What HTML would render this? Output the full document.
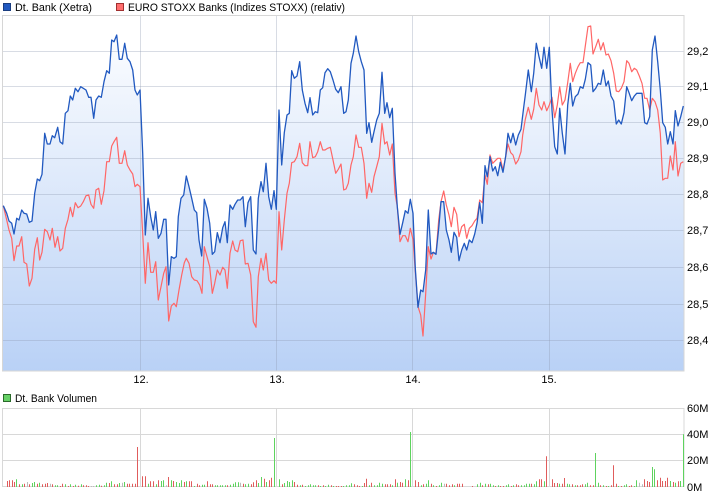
<!DOCTYPE html>
<html><head><meta charset="utf-8"><style>
html,body{margin:0;padding:0;background:#fff;}
svg{display:block;font-family:"Liberation Sans",Arial,sans-serif;}
</style></head><body>
<svg width="726" height="496" viewBox="0 0 726 496" xmlns="http://www.w3.org/2000/svg">
<defs>
<linearGradient id="g" x1="0" y1="15" x2="0" y2="371" gradientUnits="userSpaceOnUse">
<stop offset="0" stop-color="#ffffff"/>
<stop offset="1" stop-color="#b9d1f6"/>
</linearGradient>
</defs>
<rect width="726" height="496" fill="#fff"/>
<!-- legend -->
<rect x="3.5" y="3.5" width="7" height="7" fill="#2159c0" stroke="#1a3d80"/>
<text x="15" y="11" font-size="11" fill="#000" textLength="77" lengthAdjust="spacingAndGlyphs">Dt. Bank (Xetra)</text>
<rect x="116.5" y="3.5" width="7" height="7" fill="#ff6e6e" stroke="#a03030"/>
<text x="128" y="11" font-size="11" fill="#000" textLength="217" lengthAdjust="spacingAndGlyphs">EURO STOXX Banks (Indizes STOXX) (relativ)</text>

<!-- main plot fill -->
<polygon fill="url(#g)" points="3,371 3,205.7 3.3,205.7 6.7,213.3 9,221 11.7,223.3 14,234 16.7,218.3 19,220 21.7,210 24,213.3 26.7,214 29.3,222.3 32,221 34.7,193.3 37.3,179 39.7,180.7 42,174.3 44.7,133.3 47.3,144 50,144 52.3,135.7 54.7,137.7 57.7,127.3 60,141.7 62.7,144 65.3,113.3 68,110.7 70.3,96 72.7,100 75.3,88.3 78,91.7 80.7,86.7 83.3,88.3 86,90 88.7,97.3 91,97.3 93.7,118.3 96,100 98.7,96 101.3,97.3 104,81.7 106.7,70.7 109.3,73.3 111.7,40 114,41.7 116.7,35 119.3,59.3 122,59.3 124.7,43.3 127.3,58.3 130,61.7 132.7,70 135,90 137.3,95 140,90 142.7,153.3 145.3,235 148,198.3 150.7,216.7 153.3,230 155.7,211.7 158.3,238.3 161,233.3 163.7,219.3 166,219.3 168.7,285 171.3,256.7 174,258.3 176.3,256.7 178.3,216.7 181,198.3 183.7,195 186.3,176 189,186.7 191.7,198.3 194.3,210 196.7,212.7 199,240 201.7,256 204.3,199.3 207,208.3 209.7,223.3 212.3,254.3 214.7,251.7 217.3,232.7 220,242.7 222.7,227.7 225,221.7 227.3,242.7 230,205 232.7,209.3 235,204.3 237.7,200 240.3,200 243,196.7 245.3,226.7 248,202.7 250.7,196.7 253.3,250 256,254 258.3,198.3 261,181.7 263.3,191.7 266,163.3 268.7,196.7 271.3,209.3 274,190.7 276.3,209.3 279,110 281.7,165 284.3,132.7 287,115 289.3,113.3 291.7,70.7 294.3,78.3 297,76 299.7,61.7 302.3,90 305,103.3 307.7,112.7 310,97.7 312.7,115 315.3,111.7 317.7,112.7 320.3,90 322.7,87.7 325,72.7 327.7,68.7 330.3,71.7 333,80 335.7,89.3 338.3,92.7 341,86.7 343.7,113.3 346,111.7 348.3,100 351,63.3 353.3,53.3 356,36 358.7,51.7 361.3,61.7 364,70 366.7,133.3 369,122.7 371.7,142.3 374,131.7 376.7,120 379.3,113.3 382,72.3 384.7,113.3 387,102.7 389.7,117.7 392.3,108.3 395,173.3 397.3,206.7 400,234.3 402.7,222.7 405.3,210.7 408,213.3 410.3,199.3 413,213.3 415.3,268.3 418,307.3 420.7,290 423,291.7 425.7,270 428.3,210 431,254 433.3,252.3 436,254.3 438.7,228.3 441,201.7 443.7,201.7 446.3,230 449,240 451.3,252.3 454,232.3 456.7,237.3 459,260.7 461.7,250 464.3,243.3 466.7,250 469.3,240 472,242.7 474.7,234 477,223.3 479.7,202.7 482.3,223.3 485,165.7 487.3,176.7 490,156.7 492.7,171 495.3,166.7 497.7,175.7 500.3,162.3 503,172.3 505.7,156 508,133.3 510.7,142.7 513,133.3 515.7,145 518.3,135 521,129.3 523.7,107.3 525.3,95 528.3,70 531.3,91.7 533.7,73.3 536.3,43.3 539,56.7 541.7,68.3 544,47.3 546.7,68.3 549.3,47.3 552,110 554.7,146.7 557.3,154 559.7,108.3 562.3,133.3 565,154 567.7,105 570.3,83.3 572.7,106 575.3,96.7 578,94 580.3,86.7 583,88.3 585.3,79.3 588,62.7 590.7,65 593,91.7 595.7,88.3 598.3,83.3 600.7,84.3 603.3,70 606,86 608.3,81 611,96 613.7,101 616.3,124 618.7,120 621.3,124 624,112.7 626.7,86.7 629,92.7 631.7,100.7 634.3,96 636.7,93.3 639.3,93.3 642,93.3 644.7,122.7 647,124 649.7,116.7 652.3,50 655,36 657.7,61.7 660.3,90 662.7,122.7 665.3,127.3 667.7,144 670.3,131.7 673,144 675.3,110.7 678,126 680.7,116.7 683.3,106 684,106 684,371"/>

<!-- grid main -->
<g stroke="#8e9bb3" stroke-opacity="0.35" stroke-width="1" fill="none">
<path d="M3,51.5H684M3,86.5H684M3,122.5H684M3,158.5H684M3,194.5H684M3,230.5H684M3,267.5H684M3,304.5H684M3,340.5H684"/>
<path d="M140.5,15V371M276.5,15V371M412.5,15V371M549.5,15V371"/>
</g>
<rect x="2.5" y="15.5" width="681.5" height="355.5" fill="none" stroke="#d6d6d6"/>

<!-- red line -->
<polyline fill="none" stroke="#ff6666" stroke-width="1.2" stroke-linejoin="round" points="3.3,205.7 6.7,220 9,230 11.7,238.3 14,260.7 16.7,246 19,246 21.7,236.7 24,262.3 26.7,264 29.3,286 32,278.3 34.7,249.3 37.3,237.7 39.7,260 42,252.3 44.7,229.3 47.3,231.7 50,240 52.3,228.3 55,247.3 57.7,236.7 60,251 62.7,248.3 65.3,228.3 68,219.3 70.3,207.3 72.7,216.7 75.3,202.7 78,207.7 80.7,206 83.3,201.7 86,195.7 88.7,195 91,204.3 93.7,208.3 96,190 98.7,188.3 101.3,204.3 104,190.7 106.7,161.7 109.3,161.7 111.7,146 114,141.7 116.7,137.3 119.3,163.3 122,163.3 124.7,150.7 127.3,165 130,170 132.7,174 135,186.7 137.3,184.3 140,186.7 142.7,233.3 145.3,283.3 148,242.7 150.7,272.3 153.3,272.3 155.7,261.7 158.3,300 161,286.7 163.7,273.3 166,266.7 168.7,321 171.3,306 174,303.3 176.3,306.7 179,290 181.7,275 184.3,262.7 186.3,258.3 189,263.3 191.7,276.7 194.3,280 197,280.7 199.7,285 202,293.3 204.3,246.7 207,256.7 209.7,266.7 212.3,293.3 214.7,283.3 217.3,270 220,275 222.7,267.3 225,270 227.3,288.3 230,253.3 232.7,241 235,250 237.7,251.7 240.3,240.7 243,240 245.3,264 248,263.3 250.7,275 253.3,321.7 256,327.3 258.3,276.7 261,258.3 263.3,270 266,253.3 268.7,280 271.3,283.3 274,280.7 276.3,283.3 279,211.7 281.7,250 284.3,220 287,193.3 289.3,183.3 291.7,162.7 294.3,161.7 297,156.7 299.7,143.3 302.3,162.7 305,165.7 307.7,165.7 310,141.7 312.7,157.7 315.3,156.7 317.7,151.7 320.3,141.7 322.7,150 325,150 327.7,148.3 330.3,147.3 333,160 335.7,173.3 338.3,169.3 341,164 343.7,190 346,189 348.3,183.3 351,165 353.3,156.7 356,135 358.7,147.3 361.3,147.3 364,163.3 366.7,198.3 369,183.3 371.7,192.3 374,176.7 376.7,166.7 379.3,156.7 382,123.3 384.7,144 387,141.7 389.7,155 392.3,144 395,193.3 397.3,206.7 400,241.7 402.7,235.7 405.3,235.7 408,241.7 410.3,228.3 413,239.3 415.3,271.7 418,306.7 420.7,315 423,336 425.7,293.3 428.3,246.7 431,259 433.3,252.7 436,253.3 438.7,220 441,201.7 443.7,191 446.3,205 449,215 451.3,226.7 454,207.3 456.7,214.3 459,236.7 461.7,226.7 464.3,224.3 466.7,238.3 469.3,228.3 472,225.7 474.7,221 477,218.3 479.7,200 482.3,202.7 485,175 487.3,184.3 490,155 492.7,163.3 495.3,160.7 497.7,158.3 500.3,158.3 503,170 505.7,156.7 508,144 510.7,152.7 513,155 515.7,164 518.3,160 521,151.7 522.7,135 525.3,119.3 528.3,107.3 531.3,119.3 533.7,109.3 536.3,88.3 539,105 541.7,110 544,101.7 546.7,110.7 549.3,105 552,97.3 554.7,117.7 557.3,105 559.7,86.7 562.3,105 565,100 567.7,82.7 570.3,63.3 572.7,81.7 575.3,73.3 578,66.7 580.3,62.7 583,62.7 585.3,46 588,26.7 590.7,26 593,54 595.7,46.7 598.3,39.3 600.7,50 603.3,42.7 606,55 608.3,54 611,60.7 613.7,73.3 616.3,91 618.7,91.7 621.3,88.3 624,81.7 626.7,60.7 629,63.3 631.7,71.7 634.3,68.3 636.7,70 639.3,76 642,83.3 644.7,98.3 647,98.3 649.7,110 652.3,98.3 655,101.7 657.7,110 660.3,133.3 662.7,180 665.3,178.3 667.7,178.3 670.3,156 673,170 675.3,141.7 678,176 680.7,163.3 683.3,161.7"/>

<!-- blue line -->
<polyline fill="none" stroke="#2159c0" stroke-width="1.3" stroke-linejoin="round" points="3.3,205.7 6.7,213.3 9,221 11.7,223.3 14,234 16.7,218.3 19,220 21.7,210 24,213.3 26.7,214 29.3,222.3 32,221 34.7,193.3 37.3,179 39.7,180.7 42,174.3 44.7,133.3 47.3,144 50,144 52.3,135.7 54.7,137.7 57.7,127.3 60,141.7 62.7,144 65.3,113.3 68,110.7 70.3,96 72.7,100 75.3,88.3 78,91.7 80.7,86.7 83.3,88.3 86,90 88.7,97.3 91,97.3 93.7,118.3 96,100 98.7,96 101.3,97.3 104,81.7 106.7,70.7 109.3,73.3 111.7,40 114,41.7 116.7,35 119.3,59.3 122,59.3 124.7,43.3 127.3,58.3 130,61.7 132.7,70 135,90 137.3,95 140,90 142.7,153.3 145.3,235 148,198.3 150.7,216.7 153.3,230 155.7,211.7 158.3,238.3 161,233.3 163.7,219.3 166,219.3 168.7,285 171.3,256.7 174,258.3 176.3,256.7 178.3,216.7 181,198.3 183.7,195 186.3,176 189,186.7 191.7,198.3 194.3,210 196.7,212.7 199,240 201.7,256 204.3,199.3 207,208.3 209.7,223.3 212.3,254.3 214.7,251.7 217.3,232.7 220,242.7 222.7,227.7 225,221.7 227.3,242.7 230,205 232.7,209.3 235,204.3 237.7,200 240.3,200 243,196.7 245.3,226.7 248,202.7 250.7,196.7 253.3,250 256,254 258.3,198.3 261,181.7 263.3,191.7 266,163.3 268.7,196.7 271.3,209.3 274,190.7 276.3,209.3 279,110 281.7,165 284.3,132.7 287,115 289.3,113.3 291.7,70.7 294.3,78.3 297,76 299.7,61.7 302.3,90 305,103.3 307.7,112.7 310,97.7 312.7,115 315.3,111.7 317.7,112.7 320.3,90 322.7,87.7 325,72.7 327.7,68.7 330.3,71.7 333,80 335.7,89.3 338.3,92.7 341,86.7 343.7,113.3 346,111.7 348.3,100 351,63.3 353.3,53.3 356,36 358.7,51.7 361.3,61.7 364,70 366.7,133.3 369,122.7 371.7,142.3 374,131.7 376.7,120 379.3,113.3 382,72.3 384.7,113.3 387,102.7 389.7,117.7 392.3,108.3 395,173.3 397.3,206.7 400,234.3 402.7,222.7 405.3,210.7 408,213.3 410.3,199.3 413,213.3 415.3,268.3 418,307.3 420.7,290 423,291.7 425.7,270 428.3,210 431,254 433.3,252.3 436,254.3 438.7,228.3 441,201.7 443.7,201.7 446.3,230 449,240 451.3,252.3 454,232.3 456.7,237.3 459,260.7 461.7,250 464.3,243.3 466.7,250 469.3,240 472,242.7 474.7,234 477,223.3 479.7,202.7 482.3,223.3 485,165.7 487.3,176.7 490,156.7 492.7,171 495.3,166.7 497.7,175.7 500.3,162.3 503,172.3 505.7,156 508,133.3 510.7,142.7 513,133.3 515.7,145 518.3,135 521,129.3 523.7,107.3 525.3,95 528.3,70 531.3,91.7 533.7,73.3 536.3,43.3 539,56.7 541.7,68.3 544,47.3 546.7,68.3 549.3,47.3 552,110 554.7,146.7 557.3,154 559.7,108.3 562.3,133.3 565,154 567.7,105 570.3,83.3 572.7,106 575.3,96.7 578,94 580.3,86.7 583,88.3 585.3,79.3 588,62.7 590.7,65 593,91.7 595.7,88.3 598.3,83.3 600.7,84.3 603.3,70 606,86 608.3,81 611,96 613.7,101 616.3,124 618.7,120 621.3,124 624,112.7 626.7,86.7 629,92.7 631.7,100.7 634.3,96 636.7,93.3 639.3,93.3 642,93.3 644.7,122.7 647,124 649.7,116.7 652.3,50 655,36 657.7,61.7 660.3,90 662.7,122.7 665.3,127.3 667.7,144 670.3,131.7 673,144 675.3,110.7 678,126 680.7,116.7 683.3,106"/>

<!-- y labels main -->
<g font-size="11" fill="#000">
<text x="687" y="55">29,2</text>
<text x="687" y="90">29,1</text>
<text x="687" y="126">29,0</text>
<text x="687" y="162">28,9</text>
<text x="687" y="198">28,8</text>
<text x="687" y="234">28,7</text>
<text x="687" y="271">28,6</text>
<text x="687" y="308">28,5</text>
<text x="687" y="344">28,4</text>
</g>
<!-- x labels -->
<g font-size="11" fill="#000" text-anchor="middle">
<text x="141" y="383">12.</text>
<text x="277" y="383">13.</text>
<text x="413" y="383">14.</text>
<text x="549" y="383">15.</text>
</g>

<!-- volume legend -->
<rect x="3.5" y="394.5" width="7" height="7" fill="#66d066" stroke="#2a6a2a"/>
<text x="15" y="402" font-size="11" fill="#000" textLength="82" lengthAdjust="spacingAndGlyphs">Dt. Bank Volumen</text>

<!-- volume grid -->
<g stroke="#d8d8d8" fill="none">
<path d="M3,434.5H684M3,460.5H684"/>
<path d="M140.5,408V487M276.5,408V487M412.5,408V487M549.5,408V487"/>
<rect x="2.5" y="408.5" width="681.5" height="78"/>
</g>

<!-- volume bars -->
<path fill="none" stroke="#e05c5c" stroke-width="1" d="M7.5,487v-6M9.5,487v-6.7M12.5,487v-6.7M14.5,487v-5M19.5,487v-2.7M24.5,487v-3.3M29.5,487v-2.7M37.5,487v-3.3M42.5,487v-2.7M45.5,487v-3.3M47.5,487v-4M52.5,487v-2.7M60.5,487v-1M62.5,487v-3.3M68.5,487v-1M73.5,487v-1M78.5,487v-1.3M83.5,487v-1.7M86.5,487v-1.7M88.5,487v-1M101.5,487v-1.3M109.5,487v-4M114.5,487v-2.7M117.5,487v-2.7M127.5,487v-3.3M129.5,487v-3.3M132.5,487v-3.3M135.5,487v-3.3M137.5,487v-40M142.5,487v-10.7M145.5,487v-10.7M150.5,487v-5.7M153.5,487v-5.7M158.5,487v-6.7M168.5,487v-10M173.5,487v-6M184.5,487v-5M189.5,487v-5.7M191.5,487v-5.7M197.5,487v-3.3M199.5,487v-1.7M207.5,487v-5.7M210.5,487v-2.7M212.5,487v-2.7M227.5,487v-1.7M243.5,487v-3.3M251.5,487v-2.7M253.5,487v-4.7M256.5,487v-6.7M264.5,487v-8.3M269.5,487v-6.7M271.5,487v-9.3M282.5,487v-2.7M294.5,487v-5M297.5,487v-2.3M302.5,487v-2.3M318.5,487v-1.7M323.5,487v-1.7M331.5,487v-1.7M336.5,487v-1M338.5,487v-1M341.5,487v-1M354.5,487v-2.7M357.5,487v-1.7M359.5,487v-1M364.5,487v-4M366.5,487v-8.3M371.5,487v-4.3M385.5,487v-2.7M387.5,487v-2.7M390.5,487v-2.7M395.5,487v-7.7M400.5,487v-5M402.5,487v-4.3M408.5,487v-6.7M415.5,487v-6.7M418.5,487v-5M423.5,487v-2.7M431.5,487v-3.3M436.5,487v-1M446.5,487v-3.3M449.5,487v-1.7M452.5,487v-2.7M457.5,487v-3.3M459.5,487v-3.3M462.5,487v-3.3M472.5,487v-1M482.5,487v-1.7M488.5,487v-2.7M495.5,487v-1M500.5,487v-1M503.5,487v-1M511.5,487v-1M516.5,487v-2.7M518.5,487v-1.7M531.5,487v-3.3M539.5,487v-7.7M541.5,487v-7.7M546.5,487v-30.7M552.5,487v-7.7M554.5,487v-4M557.5,487v-4M562.5,487v-3.3M564.5,487v-9M572.5,487v-2.7M577.5,487v-1.7M580.5,487v-1.7M582.5,487v-2.7M590.5,487v-1.7M593.5,487v-1.7M600.5,487v-1.7M606.5,487v-1M611.5,487v-1.7M613.5,487v-21.7M616.5,487v-3.3M621.5,487v-1M629.5,487v-1M631.5,487v-1.7M644.5,487v-7.7M647.5,487v-6M649.5,487v-5M657.5,487v-6.7M660.5,487v-9.3M662.5,487v-6M665.5,487v-6M667.5,487v-9.3M673.5,487v-5M678.5,487v-5.7"/>
<path fill="none" stroke="#5ed35e" stroke-width="1" d="M16.5,487v-7.7M22.5,487v-2.7M32.5,487v-4M34.5,487v-5M39.5,487v-4.3M55.5,487v-1.7M57.5,487v-1.7M65.5,487v-2.7M70.5,487v-2.7M75.5,487v-2.3M81.5,487v-2.7M96.5,487v-1.7M99.5,487v-2.3M104.5,487v-1.7M106.5,487v-4.3M111.5,487v-5.7M119.5,487v-4M124.5,487v-5M148.5,487v-3.3M156.5,487v-2.7M161.5,487v-6M163.5,487v-6.7M171.5,487v-6.7M176.5,487v-5M179.5,487v-4M181.5,487v-6.7M186.5,487v-5.7M194.5,487v-1M202.5,487v-2.3M204.5,487v-2.3M215.5,487v-1.7M217.5,487v-1.7M220.5,487v-1.7M222.5,487v-1.7M225.5,487v-1.7M230.5,487v-2.3M233.5,487v-3.3M235.5,487v-4.7M238.5,487v-4.7M245.5,487v-2.7M248.5,487v-3.3M258.5,487v-4M261.5,487v-10M266.5,487v-5M274.5,487v-49M279.5,487v-7.7M284.5,487v-4M287.5,487v-6M289.5,487v-5M292.5,487v-6.7M300.5,487v-1.7M305.5,487v-1M308.5,487v-1.7M310.5,487v-2.7M313.5,487v-1.7M315.5,487v-1.7M320.5,487v-1M325.5,487v-1M328.5,487v-2.3M333.5,487v-1M343.5,487v-1M346.5,487v-1.7M349.5,487v-1.7M351.5,487v-3.7M362.5,487v-1M369.5,487v-1.7M374.5,487v-1.7M377.5,487v-1.7M379.5,487v-4.3M382.5,487v-3.3M392.5,487v-1.7M397.5,487v-4.3M405.5,487v-7.7M410.5,487v-55M421.5,487v-1.7M426.5,487v-3.3M428.5,487v-6.7M433.5,487v-1.7M439.5,487v-1.7M441.5,487v-4.3M454.5,487v-1.7M477.5,487v-2.7M480.5,487v-4.3M485.5,487v-3.3M490.5,487v-3.3M493.5,487v-1.7M498.5,487v-1.7M506.5,487v-1.7M508.5,487v-2.7M513.5,487v-1.7M521.5,487v-1.7M524.5,487v-1.7M526.5,487v-3.3M529.5,487v-3.3M534.5,487v-2.7M536.5,487v-5.7M544.5,487v-5.7M559.5,487v-3.3M567.5,487v-3.3M569.5,487v-2.7M575.5,487v-1.7M585.5,487v-2.7M587.5,487v-4.3M595.5,487v-34M598.5,487v-4.3M603.5,487v-1.7M608.5,487v-1M618.5,487v-1M624.5,487v-1.7M626.5,487v-2.7M634.5,487v-1M636.5,487v-6.7M652.5,487v-20M654.5,487v-17.7M670.5,487v-6M675.5,487v-4.3M680.5,487v-6M683.5,487v-52.7"/>
<path fill="none" stroke="#bcbcbc" stroke-width="1" d="M27.5,487v-5M50.5,487v-3.3M91.5,487v-1M93.5,487v-1M122.5,487v-4.3M166.5,487v-1.7M240.5,487v-4.3M444.5,487v-3.3M639.5,487v-4.3M642.5,487v-2.7"/>

<!-- volume labels -->
<g font-size="11" fill="#000">
<text x="687" y="412">60M</text>
<text x="687" y="438">40M</text>
<text x="687" y="464">20M</text>
<text x="687" y="491">0M</text>
</g>
</svg>
</body></html>
